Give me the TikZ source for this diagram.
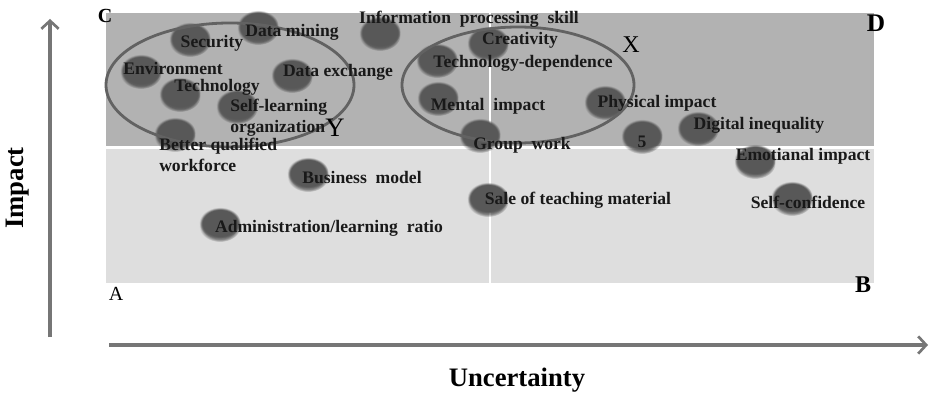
\documentclass[tikz,border=0pt]{standalone}
\usepackage{fontspec}
\setmainfont{Liberation Serif}
\usetikzlibrary{arrows.meta,shadows,shapes.geometric,fadings}
\definecolor{topgray}{RGB}{178,178,178}
\definecolor{botgray}{RGB}{222,222,222}
\definecolor{dotgray}{RGB}{88,88,88}
\definecolor{ringgray}{RGB}{98,98,98}
\definecolor{axisgray}{RGB}{118,118,118}
\begin{document}
\begin{tikzpicture}[x=0.75pt,y=-0.75pt,
  dot/.style={ellipse, minimum width=31pt, minimum height=23.5pt, inner sep=0pt, fill=dotgray,
    path fading=circle with fuzzy edge 15 percent,
    general shadow={fill=black, opacity=0.45, shadow xshift=0pt, shadow yshift=-2.5pt,
      path fading=circle with fuzzy edge 20 percent}},
  lbl/.style={font=\fontsize{13.2}{15.5}\selectfont\bfseries, inner sep=0pt, text=black!90},
  two/.style={lbl, align=left, anchor=west},
  corner/.style={font=\fontsize{#1}{#1}\selectfont\bfseries, inner sep=0pt},
  mark/.style={font=\fontsize{#1}{#1}\selectfont, inner sep=0pt},
  axislabel/.style={font=\fontsize{20}{22}\selectfont\bfseries, inner sep=0pt},
  ring/.style={draw=ringgray, line width=2.1pt, ellipse, inner sep=0pt},
  axis/.style={draw=axisgray, line width=2.3pt, -{Straight Barb[length=6pt,width=13pt,line width=2pt]}}
]
\path[use as bounding box, fill=white] (0,0) rectangle (930,395);
% quadrant fields
\fill[topgray] (106,13) rectangle (874,146);
\fill[botgray] (106,149) rectangle (874,283);
\draw[white, line width=1.5pt] (490,13) -- (490,283);
% axes
\coordinate (ybot) at (50,337);
\coordinate (ytop) at (50,19);
\coordinate (xl) at (109,345);
\coordinate (xr) at (928,345);
\draw[axis] (ybot) -- (ytop);
\draw[axis] (xl) -- (xr);
\node[axislabel, rotate=90] (impact) at (18,188) {Impact};
\node[axislabel] (unc) at (517,380) {Uncertainty};
% dots
\node[dot] (d1) at (190,38) {};
\node[dot] (d2) at (258,26) {};
\node[dot] (d3) at (380,32) {};
\node[dot] (d4) at (141,70) {};
\node[dot] (d5) at (180,93) {};
\node[dot] (d6) at (292,74) {};
\node[dot] (d7) at (237,105) {};
\node[dot] (d8) at (175,133) {};
\node[dot] (d9) at (488,42) {};
\node[dot] (d10) at (437,59) {};
\node[dot] (d11) at (438,97) {};
\node[dot] (d12) at (605,101) {};
\node[dot] (d13) at (480,134) {};
\node[dot] (d14) at (642,135) {};
\node[dot] (d15) at (698,127) {};
\node[dot] (d16) at (755,160) {};
\node[dot] (d17) at (792,197) {};
\node[dot] (d18) at (488,198) {};
\node[dot] (d19) at (308,173) {};
\node[dot] (d20) at (220,223) {};
% cluster rings
\node[ring, minimum width=186pt, minimum height=93pt] (ringY) at (230,85) {};
\node[ring, minimum width=174pt, minimum height=87pt] (ringX) at (518,85) {};
% labels
\node[lbl] (t1) at (212,43) {Security};
\node[lbl] (t2) at (292,32) {Data mining};
\node[lbl] (t3) at (469,19) {Information\ \ processing\ \ skill};
\node[lbl] (t4) at (173,68) {Environment};
\node[lbl] (t5) at (217,87) {Technology};
\node[lbl] (t6) at (338,72) {Data exchange};
\node[two] (t7) at (230,117.5) {Self-learning\\organization};
\node[two] (t8) at (159,155) {Better qualified\\workforce};
\node[lbl] (t9) at (520,40) {Creativity};
\node[lbl] (t10) at (523,63) {Technology-dependence};
\node[lbl] (t11) at (488,106) {Mental\ \ impact};
\node[lbl] (t12) at (657,103) {Physical impact};
\node[lbl] (t13) at (522,145) {Group\ \ work};
\node[lbl] (t14) at (642,142) {5};
\node[lbl] (t15) at (759,125) {Digital inequality};
\node[lbl] (t16) at (803,156) {Emotianal impact};
\node[lbl] (t17) at (808,202) {Self-confidence};
\node[lbl] (t18) at (578,200) {Sale of teaching material};
\node[lbl] (t19) at (362,178) {Business\ \ model};
\node[lbl] (t20) at (329,228) {Administration/learning\ \ ratio};
% corner and cluster marks
\node[corner=15] (cC) at (105,16) {C};
\node[corner=19] (cD) at (876,23) {D};
\node[mark=15] (cA) at (116,294) {A};
\node[corner=18] (cB) at (863,285) {B};
\node[mark=18] (mX) at (631,45) {X};
\node[mark=20] (mY) at (335,128) {Y};
\end{tikzpicture}
\end{document}
